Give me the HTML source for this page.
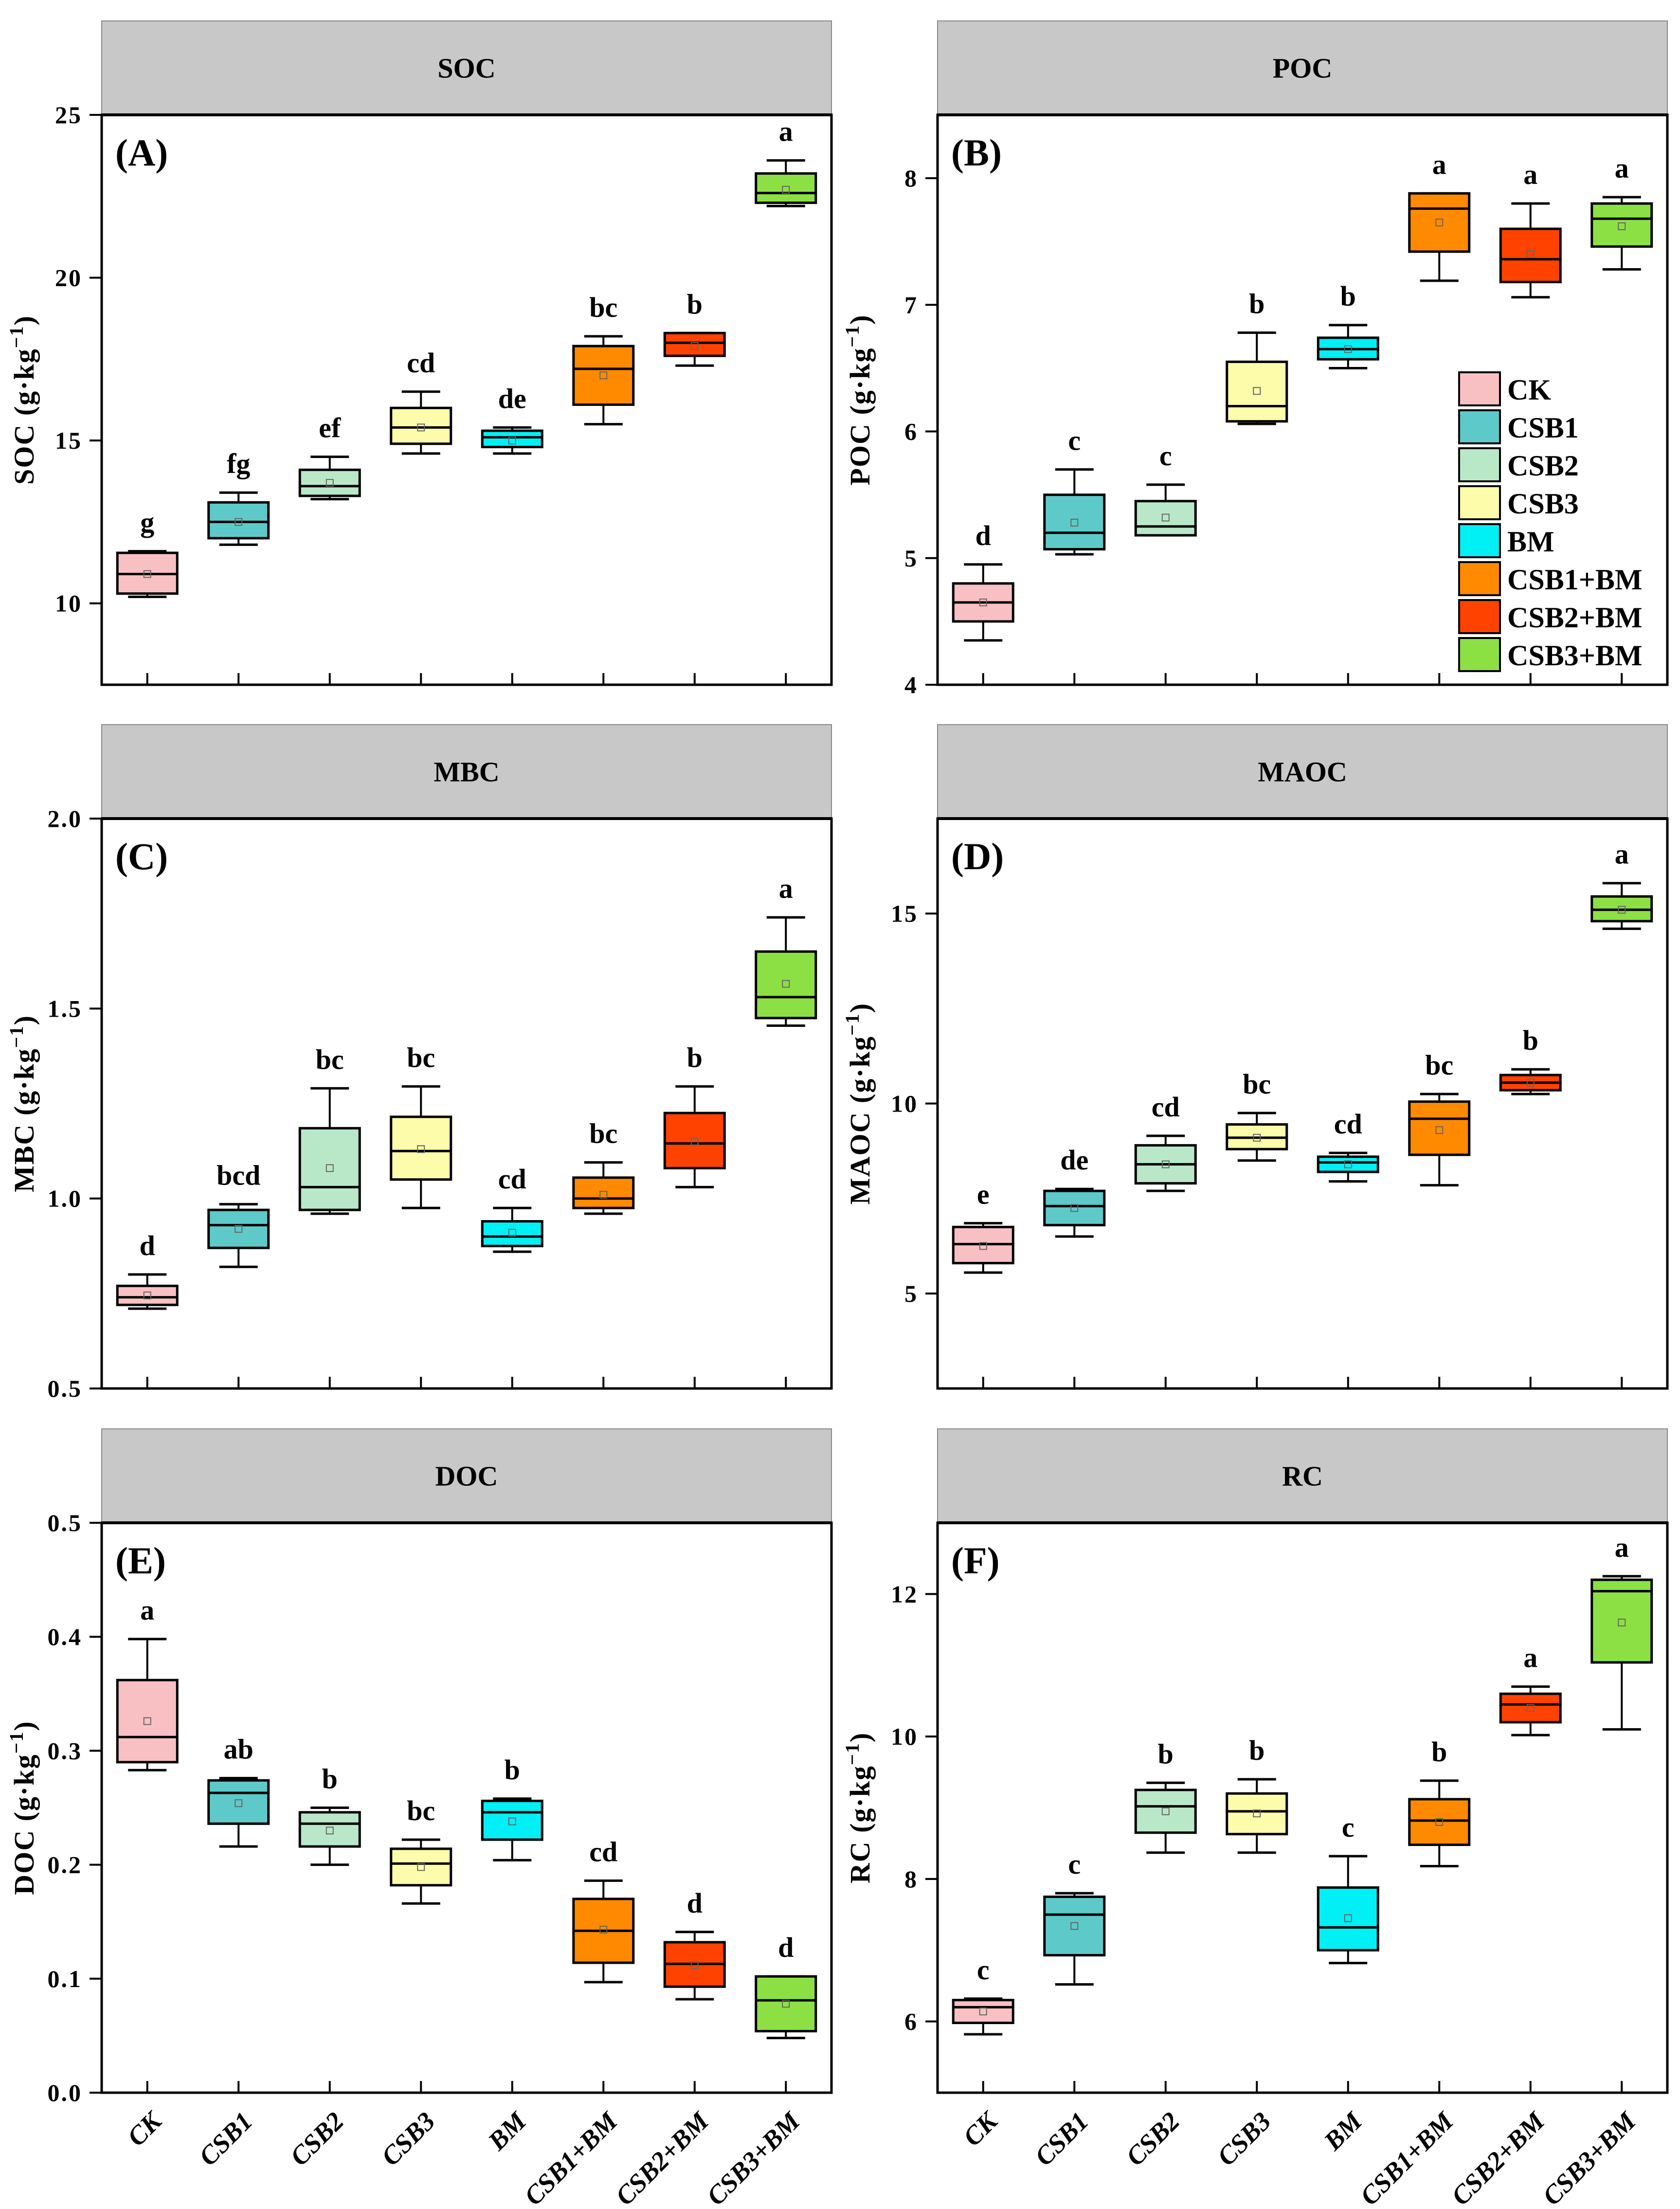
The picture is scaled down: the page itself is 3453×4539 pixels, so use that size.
<!DOCTYPE html>
<html><head><meta charset="utf-8"><style>
html,body{margin:0;padding:0;background:#fff}
svg{display:block}
text{font-family:"Liberation Serif",serif;font-weight:bold}
</style></head><body>
<svg id="fig" width="3453" height="4539" viewBox="0 0 3453 4539" xmlns="http://www.w3.org/2000/svg"></svg>
<script>
const categories = ["CK","CSB1","CSB2","CSB3","BM","CSB1+BM","CSB2+BM","CSB3+BM"];
const colors = ["#f9c0c3","#5ec9c9","#b9e8c9","#fdfcaa","#00f0f5","#ff8a00","#ff4200","#8ce043"];
// [whiskerHigh, q3, median, q1, whiskerLow, mean]
const socData = [[11.6,11.55,10.9,10.3,10.2,10.9],[13.4,13.1,12.5,12.0,11.8,12.5],[14.5,14.1,13.6,13.3,13.2,13.7],[16.5,16.0,15.4,14.9,14.6,15.4],[15.4,15.3,15.1,14.8,14.6,15.0],[18.2,17.9,17.2,16.1,15.5,17.0],[18.3,18.3,18.0,17.6,17.3,17.9],[23.6,23.2,22.6,22.3,22.2,22.7]];
const socLetters = ["g","fg","ef","cd","de","bc","b","a"];
const pocData = [[4.95,4.8,4.65,4.5,4.35,4.65],[5.7,5.5,5.2,5.07,5.03,5.28],[5.58,5.45,5.25,5.18,5.18,5.32],[6.78,6.55,6.2,6.08,6.06,6.32],[6.84,6.74,6.65,6.57,6.5,6.65],[7.88,7.88,7.76,7.42,7.19,7.65],[7.8,7.6,7.36,7.18,7.06,7.4],[7.85,7.8,7.68,7.46,7.28,7.62]];
const pocLetters = ["d","c","c","b","b","a","a","a"];
const mbcData = [[0.80,0.77,0.74,0.72,0.71,0.745],[0.985,0.97,0.93,0.87,0.82,0.92],[1.29,1.185,1.03,0.97,0.96,1.08],[1.295,1.215,1.125,1.05,0.975,1.13],[0.975,0.94,0.90,0.875,0.86,0.91],[1.095,1.055,1.0,0.975,0.96,1.01],[1.295,1.225,1.145,1.08,1.03,1.15],[1.74,1.65,1.53,1.475,1.455,1.565]];
const mbcLetters = ["d","bcd","bc","bc","cd","bc","b","a"];
const maocData = [[6.85,6.75,6.3,5.8,5.55,6.25],[7.75,7.7,7.3,6.8,6.5,7.25],[9.15,8.9,8.4,7.9,7.7,8.4],[9.75,9.45,9.1,8.8,8.5,9.1],[8.7,8.6,8.45,8.2,7.95,8.4],[10.25,10.05,9.6,8.65,7.85,9.3],[10.9,10.75,10.55,10.35,10.25,10.55],[15.8,15.45,15.1,14.8,14.6,15.1]];
const maocLetters = ["e","de","cd","bc","cd","bc","b","a"];
const docData = [[0.398,0.362,0.312,0.29,0.283,0.326],[0.276,0.274,0.263,0.236,0.216,0.254],[0.25,0.246,0.236,0.216,0.2,0.23],[0.222,0.214,0.201,0.182,0.166,0.198],[0.258,0.256,0.246,0.222,0.204,0.238],[0.186,0.17,0.142,0.114,0.097,0.143],[0.141,0.132,0.113,0.093,0.082,0.112],[0.102,0.102,0.081,0.054,0.048,0.078]];
const docLetters = ["a","ab","b","bc","b","cd","d","d"];
const rcData = [[6.32,6.3,6.2,5.98,5.82,6.14],[7.8,7.75,7.5,6.93,6.52,7.34],[9.35,9.25,9.02,8.65,8.37,8.95],[9.4,9.2,8.95,8.63,8.37,8.92],[8.32,7.88,7.32,7.0,6.82,7.45],[9.38,9.12,8.82,8.48,8.18,8.8],[10.7,10.6,10.45,10.2,10.02,10.4],[12.25,12.2,12.04,11.04,10.1,11.6]];
const rcLetters = ["c","c","b","b","c","b","a","a"];
const socTicks = [10,15,20,25];
const pocTicks = [4,5,6,7,8];
const mbcTicks = ["0.5","1.0","1.5","2.0"];
const maocTicks = [5,10,15];
const docTicks = ["0.0","0.1","0.2","0.3","0.4","0.5"];
const rcTicks = [6,8,10,12];

const NS="http://www.w3.org/2000/svg";
const svg=document.getElementById('fig');
function mk(tag,attrs,parent){const e=document.createElementNS(NS,tag);for(const k in attrs)e.setAttribute(k,attrs[k]);(parent||svg).appendChild(e);return e;}

const panels=[
 {key:"soc",title:"SOC",label:"(A)",yt:"SOC",data:socData,letters:socLetters,ticks:socTicks,min:7.5,max:25,col:0,row:0},
 {key:"poc",title:"POC",label:"(B)",yt:"POC",data:pocData,letters:pocLetters,ticks:pocTicks,min:4,max:8.5,col:1,row:0},
 {key:"mbc",title:"MBC",label:"(C)",yt:"MBC",data:mbcData,letters:mbcLetters,ticks:mbcTicks,min:0.5,max:2.0,col:0,row:1},
 {key:"maoc",title:"MAOC",label:"(D)",yt:"MAOC",data:maocData,letters:maocLetters,ticks:maocTicks,min:2.5,max:17.5,col:1,row:1},
 {key:"doc",title:"DOC",label:"(E)",yt:"DOC",data:docData,letters:docLetters,ticks:docTicks,min:0,max:0.5,col:0,row:2},
 {key:"rc",title:"RC",label:"(F)",yt:"RC",data:rcData,letters:rcLetters,ticks:rcTicks,min:5,max:13,col:1,row:2}
];
const colX=[209,1927], PW=1500, rowY=[43,1489,2936], HH=193, PH=1171;

panels.forEach(p=>{
 const g=mk('g',{});
 
 
 const x0=colX[p.col], hy=rowY[p.row], y0=hy+HH, y1=y0+PH;
 const xs=i=>x0+PW*((i+1)-0.5)/8;
 const ys=v=>y1-(v-p.min)/(p.max-p.min)*PH;
 const hdr=mk('rect',{x:x0,y:hy,width:PW,height:HH,fill:"#c8c8c8",stroke:"#888","stroke-width":2},g);
 
 
 const ht=mk('text',{x:x0+PW/2,y:hy+HH/2+20,"text-anchor":"middle","font-size":58},g);ht.textContent=p.title;
 
 
 mk('rect',{x:x0,y:y0,width:PW,height:PH,fill:"#fff",stroke:"#000","stroke-width":5},g);
 mk('line',{x1:x0,x2:x0+PW,y1:y0,y2:y0,stroke:"#000","stroke-width":6},g);
 p.ticks.forEach(t=>{const y=ys(parseFloat(t));
  mk('line',{x1:x0-25,x2:x0,y1:y,y2:y,stroke:"#000","stroke-width":4},g);
  const tl=mk('text',{x:x0-40,y:y+17,"text-anchor":"end","font-size":50,style:"letter-spacing:3px"},g);tl.textContent=t;
  
  
 });
 const tx=x0-140, ty=(y0+y1)/2;
 const yt=mk('text',{x:tx,y:ty,"text-anchor":"middle","font-size":58,transform:`rotate(-90 ${tx} ${ty})`,style:"letter-spacing:2px"},g);
 yt.innerHTML=p.yt+' (g·kg<tspan dy="-22" font-size="40">−1</tspan><tspan dy="22">)</tspan>';
 
 
 const pl=mk('text',{x:x0+28,y:y0+104,"font-size":78},g);pl.textContent=p.label;
 
 
 const bw=123, cw=79;
 p.data.forEach((d,i)=>{
  const cx=xs(i);
  mk('line',{x1:cx,x2:cx,y1:y1,y2:y1-24,stroke:"#000","stroke-width":4},g);
  const bg=mk('g',{},g);
  
  
  mk('line',{x1:cx,x2:cx,y1:ys(d[0]),y2:ys(d[4]),stroke:"#000","stroke-width":4},bg);
  mk('line',{x1:cx-cw/2,x2:cx+cw/2,y1:ys(d[0]),y2:ys(d[0]),stroke:"#000","stroke-width":5},bg);
  mk('line',{x1:cx-cw/2,x2:cx+cw/2,y1:ys(d[4]),y2:ys(d[4]),stroke:"#000","stroke-width":5},bg);
  mk('rect',{x:cx-bw/2,y:ys(d[1]),width:bw,height:Math.max(1,ys(d[3])-ys(d[1])),fill:colors[i],stroke:"#000","stroke-width":5},bg);
  mk('line',{x1:cx-bw/2,x2:cx+bw/2,y1:ys(d[2]),y2:ys(d[2]),stroke:"#000","stroke-width":5},bg);
  mk('rect',{x:cx-7,y:ys(d[5])-7,width:14,height:14,fill:"none",stroke:"#666","stroke-width":2},bg);
  const lt=mk('text',{x:cx,y:ys(d[0])-40,"text-anchor":"middle","font-size":58},g);lt.textContent=p.letters[i];
  
  
  if(p.row===2){
   const ax=cx+32, ay=y1+62;
   const xl=mk('text',{x:ax,y:ay,"text-anchor":"end","font-size":54,"font-style":"italic",transform:`rotate(-45 ${ax} ${ay})`},g);
   xl.textContent=categories[i];
   
   
  }
 });
});
const lg=mk('g',{});


categories.forEach((c,i)=>{
 const y=765+i*78;
 const e=mk('g',{},lg);
 
 
 mk('rect',{x:2999,y:y,width:84,height:68,fill:colors[i],stroke:"#000","stroke-width":4},e);
 const t=mk('text',{x:3098,y:y+56,"font-size":60},e);t.textContent=c;
});
</script>
</body></html>
